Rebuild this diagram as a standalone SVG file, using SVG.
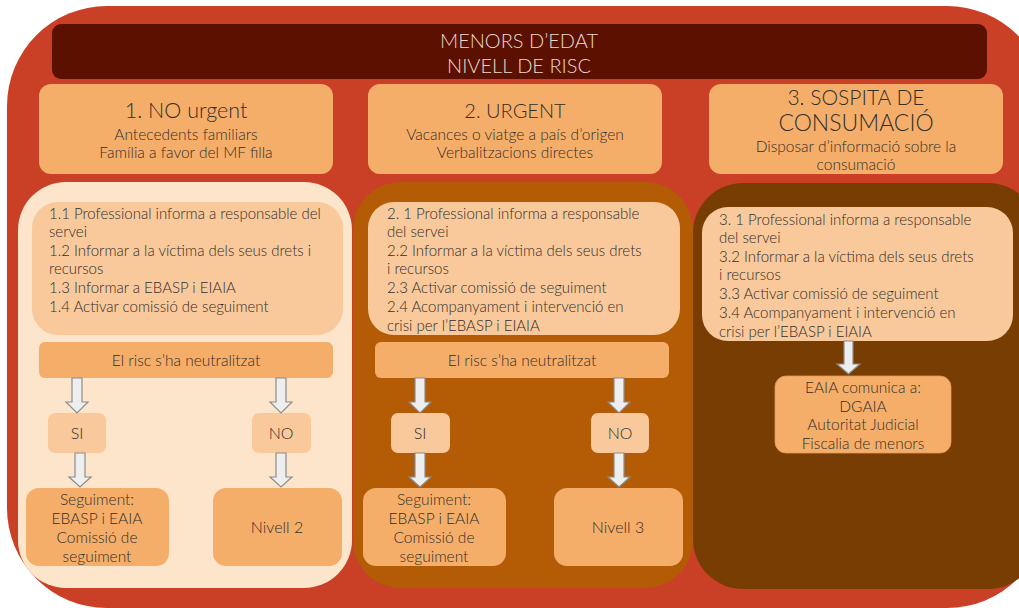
<svg xmlns="http://www.w3.org/2000/svg" width="1019" height="608" viewBox="0 0 1019 608">
<style>
text{font-family:Lato,"Liberation Sans",sans-serif;font-weight:300;fill:#332e2a}
.c{text-anchor:middle}
.t{fill:#eadace;font-size:20px}
.h{font-size:20px}
.s{font-size:15.5px}
.b{font-size:15px}
.n{font-size:15.5px}
.hdr{fill:#f5ae69}
.act{fill:#f9c99b}
.box{fill:#f5ae69;stroke:#e29a58;stroke-width:0.8}
.sm{fill:#f9c99b}
.arr{fill:#eeeeee;stroke:#8c8c8c;stroke-width:1.2}
</style>
<rect x="7" y="6" width="1040" height="602" rx="100" fill="#c94027"/>
<g id="title">
<rect x="52" y="24" width="935" height="55" rx="9" fill="#5c1000"/>
<text class="t c" x="519" y="48">MENORS D’EDAT</text>
<text class="t c" x="519" y="73">NIVELL DE RISC</text>
</g>
<g id="h1">
<rect class="hdr" x="39" y="84" width="294" height="90" rx="12"/>
<text class="h c" x="186" y="118" style="font-size:21.5px">1. NO urgent</text>
<text class="s c" x="186" y="140">Antecedents familiars</text>
<text class="s c" x="186" y="158">Família a favor del MF filla</text>
</g>
<g id="h2">
<rect class="hdr" x="368" y="84" width="294" height="90" rx="12"/>
<text class="h c" x="515" y="118">2. URGENT</text>
<text class="s c" x="515" y="140">Vacances o viatge a país d’origen</text>
<text class="s c" x="515" y="158">Verbalitzacions directes</text>
</g>
<g id="h3">
<rect class="hdr" x="709" y="84" width="294" height="90" rx="12"/>
<text class="h c" x="856" y="105" style="font-size:21px">3. SOSPITA DE</text>
<text class="h c" x="856" y="131" style="font-size:23px">CONSUMACIÓ</text>
<text class="s c" x="856" y="152">Disposar d’informació sobre la</text>
<text class="s c" x="856" y="170">consumació</text>
</g>
<g id="col1">
<rect x="18" y="182" width="334" height="406" rx="48" fill="#fde5cb"/>
</g>
<g id="col2">
<rect x="353" y="182" width="340" height="406" rx="48" fill="#b35c05"/>
</g>
<g id="col3">
<rect x="693" y="183" width="345" height="406" rx="50" fill="#773d03"/>
</g>
<g id="a1">
<rect class="act" x="32" y="202" width="311" height="133" rx="26"/>
<text class="b" x="49" y="219">1.1 Professional informa a responsable del</text>
<text class="b" x="49" y="237">servei</text>
<text class="b" x="49" y="256">1.2 Informar a la víctima dels seus drets i</text>
<text class="b" x="49" y="274">recursos</text>
<text class="b" x="49" y="293">1.3 Informar a EBASP i EIAIA</text>
<text class="b" x="49" y="312">1.4 Activar comissió de seguiment</text>
</g>
<g id="a2">
<rect class="act" x="368" y="202" width="312" height="133" rx="26"/>
<text class="b" x="387" y="219">2. 1 Professional informa a responsable</text>
<text class="b" x="387" y="237">del servei</text>
<text class="b" x="387" y="256">2.2 Informar a la víctima dels seus drets</text>
<text class="b" x="387" y="274">i recursos</text>
<text class="b" x="387" y="293">2.3 Activar comissió de seguiment</text>
<text class="b" x="387" y="312">2.4 Acompanyament i intervenció en</text>
<text class="b" x="387" y="331">crisi per l’EBASP i EIAIA</text>
</g>
<g id="a3">
<rect class="act" x="702" y="207" width="311" height="134" rx="26"/>
<text class="b" x="719" y="225">3. 1 Professional informa a responsable</text>
<text class="b" x="719" y="243">del servei</text>
<text class="b" x="719" y="262">3.2 Informar a la víctima dels seus drets</text>
<text class="b" x="719" y="280">i recursos</text>
<text class="b" x="719" y="299">3.3 Activar comissió de seguiment</text>
<text class="b" x="719" y="318">3.4 Acompanyament i intervenció en</text>
<text class="b" x="719" y="337">crisi per l’EBASP i EIAIA</text>
</g>
<g id="r1">
<rect class="hdr" x="39" y="342" width="294" height="36" rx="6"/>
<text class="n c" x="186" y="366">El risc s’ha neutralitzat</text>
</g>
<g id="r2">
<rect class="hdr" x="375" y="342" width="294" height="36" rx="6"/>
<text class="n c" x="522" y="366">El risc s’ha neutralitzat</text>
</g>
<g id="si1">
<rect class="sm" x="48" y="413" width="58" height="40" rx="7"/>
<text class="c" x="77" y="439" style="font-size:16px">SI</text>
</g>
<g id="no1">
<rect class="sm" x="252" y="413" width="59" height="40" rx="7"/>
<text class="c" x="281" y="439" style="font-size:16px">NO</text>
</g>
<g id="si2">
<rect class="sm" x="391" y="413" width="59" height="40" rx="7"/>
<text class="c" x="420" y="439" style="font-size:16px">SI</text>
</g>
<g id="no2">
<rect class="sm" x="591" y="413" width="58" height="40" rx="7"/>
<text class="c" x="620" y="439" style="font-size:16px">NO</text>
</g>
<g id="seg1">
<rect class="hdr" x="26" y="488" width="143" height="78" rx="13"/>
<text class="n c" x="97" y="505">Seguiment:</text>
<text class="n c" x="97" y="524">EBASP i EAIA</text>
<text class="n c" x="97" y="543">Comissió de</text>
<text class="n c" x="97" y="562">seguiment</text>
</g>
<g id="niv2">
<rect class="hdr" x="213" y="488" width="129" height="78" rx="13"/>
<text class="c" x="277" y="533" style="font-size:16px">Nivell 2</text>
</g>
<g id="seg2">
<rect class="hdr" x="363" y="488" width="143" height="78" rx="13"/>
<text class="n c" x="434" y="505">Seguiment:</text>
<text class="n c" x="434" y="524">EBASP i EAIA</text>
<text class="n c" x="434" y="543">Comissió de</text>
<text class="n c" x="434" y="562">seguiment</text>
</g>
<g id="niv3">
<rect class="hdr" x="554" y="488" width="129" height="78" rx="13"/>
<text class="c" x="618" y="533" style="font-size:16px">Nivell 3</text>
</g>
<g id="eaia">
<rect class="box" x="775" y="376" width="176" height="77" rx="11"/>
<text class="n c" x="863" y="393">EAIA comunica a:</text>
<text class="n c" x="863" y="412">DGAIA</text>
<text class="n c" x="863" y="430">Autoritat Judicial</text>
<text class="n c" x="863" y="449">Fiscalia de menors</text>
</g>
<g id="connectors">
<path class="arr" d="M72,378H82V402H88L77,413L66,402H72Z"/>
<path class="arr" d="M75,453H85V477H91L80,487L69,477H75Z"/>
<path class="arr" d="M276,378H286V402H292L281,413L270,402H276Z"/>
<path class="arr" d="M276,453H286V477H292L281,487L270,477H276Z"/>
<path class="arr" d="M415,378H425V402H431L420,413L409,402H415Z"/>
<path class="arr" d="M415,453H425V477H431L420,487L409,477H415Z"/>
<path class="arr" d="M614,378H624V402H630L619,413L608,402H614Z"/>
<path class="arr" d="M614,453H624V477H630L619,487L608,477H614Z"/>
<path class="arr" d="M844,341H853V364H860L848.5,374L837,364H844Z"/>
</g>
</svg>
